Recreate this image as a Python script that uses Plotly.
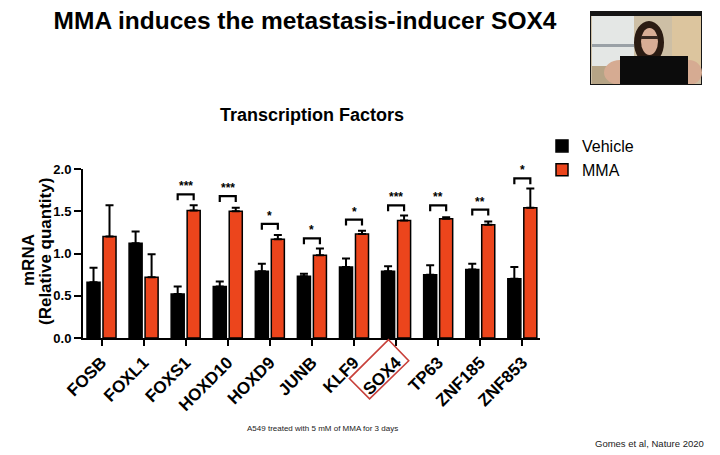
import plotly.graph_objects as go

# ---------------- data ----------------
genes = ["FOSB", "FOXL1", "FOXS1", "HOXD10", "HOXD9", "JUNB", "KLF9", "SOX4", "TP63", "ZNF185", "ZNF853"]
vehicle = [0.66, 1.12, 0.52, 0.61, 0.79, 0.73, 0.84, 0.79, 0.75, 0.81, 0.70]
vehicle_err = [0.17, 0.14, 0.09, 0.06, 0.09, 0.03, 0.10, 0.06, 0.11, 0.07, 0.14]
mma = [1.20, 0.72, 1.51, 1.50, 1.17, 0.98, 1.23, 1.39, 1.41, 1.34, 1.54]
mma_err = [0.37, 0.27, 0.06, 0.04, 0.05, 0.08, 0.04, 0.06, 0.02, 0.04, 0.23]
sig_labels = ["", "", "***", "***", "*", "*", "*", "***", "**", "**", "*"]
sig_levels = [None, None, 1.70, 1.68, 1.35, 1.18, 1.40, 1.57, 1.57, 1.52, 1.89]
y_ticks = [0.0, 0.5, 1.0, 1.5, 2.0]

ORANGE = "#EC451C"
FONT = "Liberation Sans, Arial, sans-serif"

# the page body has an 8px margin: work in page pixels, convert to figure pixels
OFF = 8
W, H = 720 - OFF, 455 - OFF
L, R, T, B = 83 - OFF, 540 - OFF, 169 - OFF, 338 - OFF


def px(xp):
    return (xp - OFF - L) / (R - L)


def py(yp):
    return (B - (yp - OFF)) / (B - T)


xs = list(range(len(genes)))

fig = go.Figure()
fig.add_trace(go.Bar(
    x=xs, y=vehicle, name="Vehicle", width=0.31, offset=-0.345,
    marker=dict(color="black", line=dict(color="black", width=1.5)),
    error_y=dict(type="data", array=vehicle_err, arrayminus=[0] * len(genes),
                 symmetric=False, color="black", thickness=2, width=4),
))
fig.add_trace(go.Bar(
    x=xs, y=mma, name="MMA", width=0.31, offset=0.035,
    marker=dict(color=ORANGE, line=dict(color="black", width=1.5)),
    error_y=dict(type="data", array=mma_err, arrayminus=[0] * len(genes),
                 symmetric=False, color="black", thickness=2, width=4),
))

# significance brackets
for i, (lab, lev) in enumerate(zip(sig_labels, sig_levels)):
    if lev is None:
        continue
    x0, x1 = i - 0.19, i + 0.19
    fig.add_trace(go.Scatter(
        x=[x0, x0, x1, x1], y=[lev - 0.07, lev, lev, lev - 0.07],
        mode="lines", line=dict(color="black", width=2.2),
        showlegend=False, hoverinfo="skip",
    ))
    fig.add_annotation(x=i, y=lev, text="<b>" + lab + "</b>", showarrow=False,
                       yanchor="bottom", yshift=-1, font=dict(size=12, color="black", family=FONT))

shapes = []
# red box around the SOX4 label
shapes.append(dict(type="path", xref="x", yref="paper",
                   path="M 6.82 -0.01 L 7.30 -0.135 L 6.37 -0.36 L 5.89 -0.24 Z",
                   line=dict(color="#C8403A", width=1.6)))

# webcam thumbnail (decorative), page pixels
cam = [
    ("rect", 590, 11, 702, 85, "#151515"),
    ("rect", 591, 16, 701, 84, "#cdbfa5"),
    ("rect", 592, 16, 634, 66, "#e4e7e5"),
    ("rect", 592, 44, 634, 47, "#9aa1a6"),
    ("rect", 672, 16, 701, 70, "#dcc59e"),
    ("rect", 592, 66, 630, 84, "#b6a486"),
    ("circle", 634, 21, 664, 64, "#2a1b12"),
    ("circle", 641, 28, 658, 55, "#d8ad95"),
    ("rect", 641, 36, 658, 39, "#3a2a22"),
    ("circle", 604, 60, 636, 92, "#d6ab92"),
    ("circle", 676, 60, 702, 92, "#d6ab92"),
    ("rect", 620, 56, 688, 84, "#0c0c0c"),
    ("rect", 591, 84, 701, 85, "#151515"),
]
for kind, x0, y0, x1, y1, col in cam:
    shapes.append(dict(type=kind, xref="paper", yref="paper",
                       x0=px(x0), x1=px(x1), y0=py(min(y1, 85)), y1=py(y0),
                       fillcolor=col, line=dict(width=0), layer="above"))

# y-axis title as two rotated lines (tight leading as in the reference)
fig.add_annotation(xref="paper", yref="paper", x=px(28), y=py(260), textangle=-90,
                   text="<b>mRNA</b>", showarrow=False, xanchor="center", yanchor="middle",
                   font=dict(size=17, color="black", family=FONT))
fig.add_annotation(xref="paper", yref="paper", x=px(45), y=py(252), textangle=-90,
                   text="<b>(Relative quantity)</b>", showarrow=False, xanchor="center", yanchor="middle",
                   font=dict(size=17, color="black", family=FONT))

fig.add_annotation(xref="paper", yref="paper", x=px(312), y=py(115),
                   text="<b>Transcription Factors</b>", showarrow=False,
                   xanchor="center", yanchor="middle",
                   font=dict(size=18, color="black", family=FONT))
fig.add_annotation(xref="paper", yref="paper", x=px(322), y=py(428),
                   text="A549 treated with 5 mM of MMA for 3 days", showarrow=False,
                   xanchor="center", yanchor="middle",
                   font=dict(size=8, color="#222", family=FONT))
fig.add_annotation(xref="paper", yref="paper", x=px(706), y=py(443), xanchor="right",
                   yanchor="middle",
                   text="Gomes et al, Nature 2020", showarrow=False,
                   font=dict(size=9.5, color="#222", family=FONT))

fig.update_layout(
    width=W, height=H, autosize=False,
    margin=dict(l=L, r=W - R, t=T, b=H - B, pad=0),
    paper_bgcolor="white", plot_bgcolor="white",
    font=dict(family=FONT, color="black"),
    title=dict(text="<b>MMA induces the metastasis-inducer SOX4</b>",
               xref="paper", x=px(305), xanchor="center",
               yref="container", y=1 - (20 - OFF) / H, yanchor="middle",
               font=dict(size=24.5, color="black", family=FONT)),
    showlegend=True,
    legend=dict(x=px(542), y=py(129), xanchor="left", yanchor="top",
                font=dict(size=16, color="black", family=FONT),
                bgcolor="rgba(0,0,0,0)", itemwidth=30, tracegroupgap=0),
    xaxis=dict(range=[-0.44, 10.42], tickmode="array", tickvals=xs,
               ticktext=["<b>" + g + "</b>" for g in genes], tickangle=-45,
               tickfont=dict(size=17, color="black", family=FONT),
               showline=True, linecolor="black", linewidth=2,
               ticks="outside", ticklen=6, tickwidth=2, tickcolor="black",
               showgrid=False, zeroline=False, fixedrange=True, automargin=False),
    yaxis=dict(range=[0, 2.0], tickmode="array", tickvals=y_ticks,
               ticktext=["<b>%.1f</b>" % v for v in y_ticks],
               tickfont=dict(size=13, color="black", family=FONT),
               showline=True, linecolor="black", linewidth=2,
               ticks="outside", ticklen=7, tickwidth=2, tickcolor="black",
               showgrid=False, zeroline=False, automargin=False),
    shapes=shapes,
)

fig.write_html("out.html")
